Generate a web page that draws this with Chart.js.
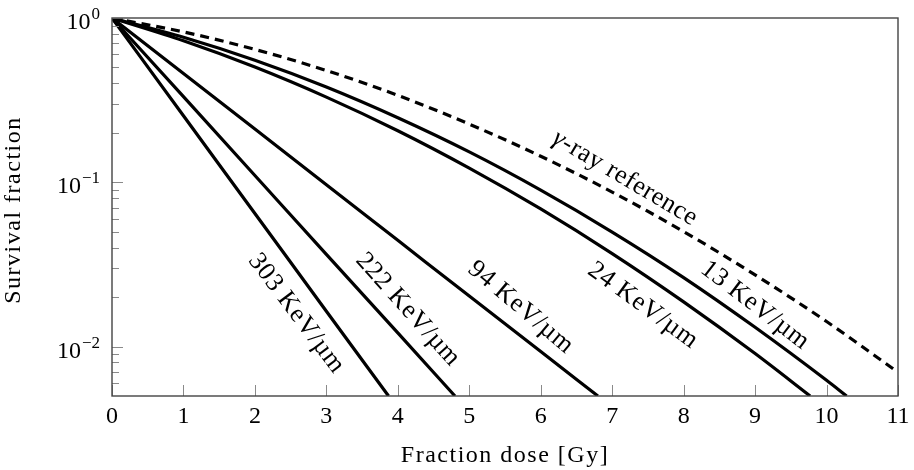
<!DOCTYPE html>
<html>
<head>
<meta charset="utf-8">
<script src="https://cdn.jsdelivr.net/npm/chart.js@4.4.1/dist/chart.umd.min.js"></script>
<style>
  html, body { margin: 0; background: #fff; }
</style>
</head>
<body>
<canvas id="survivalChart" width="914" height="470"></canvas>
<script>
// survival curves, dose in Gy
const gammaDose = [0, 1, 2, 3, 4, 5, 6, 7, 8, 9, 10, 11];
const gammaSurvival = [1, 0.823, 0.644, 0.479, 0.338, 0.226, 0.144, 0.0872, 0.0501, 0.0273, 0.0142, 0.00697];
const let13Dose = [0, 1, 2, 3, 4, 5, 6, 7, 8, 9, 10, 10.28];
const let13Survival = [1, 0.763, 0.553, 0.380, 0.247, 0.153, 0.0896, 0.0498, 0.0263, 0.0131, 0.00623, 0.005];
const let24Dose = [0, 1, 2, 3, 4, 5, 6, 7, 8, 9, 9.77];
const let24Survival = [1, 0.727, 0.503, 0.330, 0.206, 0.122, 0.0688, 0.0368, 0.0187, 0.00906, 0.005];
const let94Dose = [0, 1, 2, 3, 4, 5, 6, 6.8];
const let94Survival = [1, 0.459, 0.211, 0.0966, 0.0443, 0.0203, 0.00934, 0.005];
const let222Dose = [0, 1, 2, 3, 4, 4.8];
const let222Survival = [1, 0.332, 0.110, 0.0364, 0.0121, 0.005];
const let303Dose = [0, 1, 2, 3, 3.87];
const let303Survival = [1, 0.254, 0.0646, 0.0164, 0.005];

// axis ticks
const xTicks = [0, 1, 2, 3, 4, 5, 6, 7, 8, 9, 10, 11];
const yMajorTicks = [1, 0.1, 0.01];
const yMajorExponents = ['0', '\u22121', '\u22122'];
const yMinorTicks = [0.9, 0.8, 0.7, 0.6, 0.5, 0.4, 0.3, 0.2,
                     0.09, 0.08, 0.07, 0.06, 0.05, 0.04, 0.03, 0.02,
                     0.009, 0.008, 0.007, 0.006];

// in-plot curve labels: [text, dose, survival, angle in degrees, italic prefix]
const curveLabels = [
  ['-ray reference', 7.18, 0.1057, 30.7, 'γ'],
  ['13 KeV/µm', 9.0, 0.0178, 37.5],
  ['24 KeV/µm', 7.43, 0.0178, 36],
  ['94 KeV/µm', 5.72, 0.0173, 40],
  ['222 KeV/µm', 4.14, 0.0168, 48],
  ['303 KeV/µm', 2.58, 0.0159, 53],
];

const FONT = '"Liberation Serif", "DejaVu Serif", serif';

const toPoints = (xs, ys) => xs.map((x, i) => ({ x, y: ys[i] }));

const line = (xs, ys, dashed) => ({
  data: toPoints(xs, ys),
  borderColor: '#000',
  borderWidth: 3.2,
  borderDash: dashed ? [9, 6] : [],
  pointRadius: 0,
  cubicInterpolationMode: 'monotone',
  fill: false,
});

const framePlugin = {
  id: 'framePlugin',
  afterDatasetsDraw(chart) {
    const { ctx, chartArea: a, scales: { x, y } } = chart;
    ctx.save();

    // ticks pointing inward
    ctx.strokeStyle = '#8a8a8a';
    ctx.lineWidth = 1;
    ctx.beginPath();
    xTicks.forEach(v => {
      const px = Math.round(x.getPixelForValue(v)) + 0.5;
      ctx.moveTo(px, a.bottom);
      ctx.lineTo(px, a.bottom - 11);
    });
    yMajorTicks.forEach(v => {
      const py = Math.round(y.getPixelForValue(v)) + 0.5;
      ctx.moveTo(a.left, py);
      ctx.lineTo(a.left + 11, py);
    });
    yMinorTicks.forEach(v => {
      const py = Math.round(y.getPixelForValue(v)) + 0.5;
      ctx.moveTo(a.left, py);
      ctx.lineTo(a.left + 7, py);
    });
    ctx.stroke();

    // frame
    ctx.strokeStyle = '#444';
    ctx.lineWidth = 1.4;
    ctx.strokeRect(a.left, a.top, a.right - a.left, a.bottom - a.top);

    ctx.fillStyle = '#000';
    ctx.letterSpacing = '0px';

    // x tick labels
    ctx.font = `24px ${FONT}`;
    ctx.textAlign = 'center';
    ctx.textBaseline = 'alphabetic';
    xTicks.forEach(v => ctx.fillText(String(v), x.getPixelForValue(v), a.bottom + 27));

    // y tick labels as powers of ten
    yMajorTicks.forEach((v, i) => {
      const py = y.getPixelForValue(v);
      const right = a.left - 12;
      ctx.textAlign = 'right';
      ctx.font = `17px ${FONT}`;
      const expW = ctx.measureText(yMajorExponents[i]).width;
      ctx.fillText(yMajorExponents[i], right, py + 1);
      ctx.font = `24px ${FONT}`;
      ctx.fillText('10', right - expW - 1, py + 11);
    });

    // axis titles
    ctx.font = `24px ${FONT}`;
    ctx.letterSpacing = '1.5px';
    ctx.textAlign = 'center';
    ctx.fillText('Fraction dose [Gy]', (a.left + a.right) / 2, a.bottom + 66);
    ctx.save();
    ctx.translate(20, (a.top + a.bottom) / 2 + 3);
    ctx.rotate(-Math.PI / 2);
    ctx.fillText('Survival fraction', 0, 0);
    ctx.restore();

    // curve labels
    ctx.letterSpacing = '0.6px';
    curveLabels.forEach(([text, dv, sv, deg, prefix]) => {
      const px = x.getPixelForValue(dv);
      const py = y.getPixelForValue(sv);
      ctx.save();
      ctx.translate(px, py);
      ctx.rotate(deg * Math.PI / 180);
      ctx.textBaseline = 'middle';
      ctx.textAlign = 'left';
      ctx.font = `26px ${FONT}`;
      const w = ctx.measureText(text).width;
      let preW = 0;
      if (prefix) {
        ctx.font = `italic 26px ${FONT}`;
        preW = ctx.measureText(prefix).width;
      }
      const start = -(w + preW) / 2;
      if (prefix) ctx.fillText(prefix, start, 0);
      ctx.font = `26px ${FONT}`;
      ctx.fillText(text, start + preW, 0);
      ctx.restore();
    });

    ctx.restore();
  }
};

new Chart(document.getElementById('survivalChart'), {
  type: 'line',
  data: {
    datasets: [
      line(gammaDose, gammaSurvival, true),
      line(let13Dose, let13Survival),
      line(let24Dose, let24Survival),
      line(let94Dose, let94Survival),
      line(let222Dose, let222Survival),
      line(let303Dose, let303Survival),
    ],
  },
  options: {
    responsive: false,
    animation: false,
    devicePixelRatio: 1,
    layout: { padding: { left: 112, right: 16, top: 18, bottom: 74 } },
    plugins: { legend: { display: false }, tooltip: { enabled: false } },
    scales: {
      x: { type: 'linear', min: 0, max: 11, display: false },
      y: { type: 'logarithmic', min: 0.005, max: 1, display: false },
    },
  },
  plugins: [framePlugin],
});
</script>
</body>
</html>
